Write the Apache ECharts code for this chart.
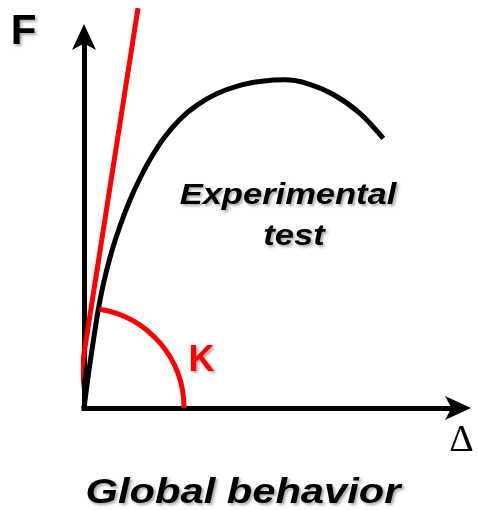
<!DOCTYPE html>
<html>
<head>
<meta charset="utf-8">
<script src="https://cdn.jsdelivr.net/npm/echarts@6/dist/echarts.min.js"></script>
<style>
  html, body { margin: 0; padding: 0; background: #fff; }
  #chart { width: 479px; height: 510px; }
</style>
</head>
<body>
<div id="chart"></div>
<script>
// Experimental load–displacement curve (displacement Δ, force F), arbitrary units
const curveDisp  = [0, 0.80, 1.60, 3.38, 4.26, 5.32, 7.37, 9.57, 12.23, 14.89, 17.55, 21.09, 25.53, 29.97, 35.29, 41.49, 47.34, 53.46, 59.23, 66.30, 73.40, 79.60];
const curveForce = [0, 6.22, 12.06, 23.91, 28.87, 34.02, 41.96, 48.79, 55.76, 61.60, 66.62, 72.20, 77.43, 81.13, 84.26, 86.51, 87.61, 87.99, 87.05, 84.05, 79.01, 72.31];

// Initial stiffness K: tangent line end points
const tangentDisp  = [-1.94, 14.36];
const tangentForce = [2.14, 107.2];

// Radius of the angle marker for K, in displacement units
const stiffnessArcRadius = 26.6;

// Texts
const axisNames = { x: 'Δ', y: 'F' };
const curveLabel = ['Experimental', 'test'];
const stiffnessLabel = 'K';
const captionText = 'Global behavior';

const chart = echarts.init(document.getElementById('chart'), null, { renderer: 'canvas' });

const shadow = {
  textShadowColor: 'rgba(0,0,0,0.35)',
  textShadowBlur: 3,
  textShadowOffsetX: 2,
  textShadowOffsetY: 2
};
const sansBold = '"Liberation Sans", Arial, sans-serif';

const axisCommon = {
  type: 'value',
  min: 0,
  max: 100,
  splitLine: { show: false },
  axisTick: { show: false },
  axisLabel: { show: false },
  axisLine: {
    show: true,
    onZero: false,
    symbol: ['none', 'arrow'],
    symbolSize: [18, 26],
    symbolOffset: [0, 11],
    lineStyle: { color: '#000', width: 5, cap: 'square' }
  }
};

chart.setOption({
  animation: false,
  backgroundColor: '#fff',
  grid: { left: 84, right: 19, top: 35, bottom: 102 },
  xAxis: Object.assign({}, axisCommon),
  yAxis: Object.assign({}, axisCommon),
  graphic: [
    { type: 'text', x: 23.5, y: 32, style: Object.assign({
        text: axisNames.y, fontFamily: sansBold, fontWeight: 'bold', fontSize: 42,
        fill: '#000', align: 'center', verticalAlign: 'middle' }, shadow) },
    { type: 'text', x: 461.5, y: 441, style: {
        text: axisNames.x, fontFamily: '"Liberation Serif", "Times New Roman", serif', fontSize: 38,
        fill: '#000', align: 'center', verticalAlign: 'middle' } },
    { type: 'text', x: 288, y: 196, scaleX: 1.15, style: Object.assign({
        text: curveLabel[0], fontFamily: sansBold, fontWeight: 'bold', fontStyle: 'italic', fontSize: 30,
        fill: '#000', align: 'center', verticalAlign: 'middle' }, shadow) },
    { type: 'text', x: 294, y: 237, scaleX: 1.15, style: Object.assign({
        text: curveLabel[1], fontFamily: sansBold, fontWeight: 'bold', fontStyle: 'italic', fontSize: 30,
        fill: '#000', align: 'center', verticalAlign: 'middle' }, shadow) },
    { type: 'text', x: 201.5, y: 361, style: Object.assign({
        text: stiffnessLabel, fontFamily: sansBold, fontWeight: 'bold', fontSize: 36,
        fill: '#ff0000', align: 'center', verticalAlign: 'middle' }, shadow) },
    { type: 'text', x: 243, y: 493, scaleX: 1.19, style: Object.assign({
        text: captionText, fontFamily: sansBold, fontWeight: 'bold', fontStyle: 'italic', fontSize: 35,
        fill: '#000', align: 'center', verticalAlign: 'middle' }, shadow) }
  ],
  series: [
    {
      name: 'Experimental test',
      type: 'line',
      smooth: 0.3,
      symbol: 'none',
      clip: false,
      z: 10,
      lineStyle: { color: '#000', width: 5, cap: 'butt' },
      data: curveDisp.map((d, i) => [d, curveForce[i]])
    },
    {
      name: 'K',
      type: 'line',
      symbol: 'none',
      clip: false,
      z: 11,
      lineStyle: { color: '#ff0000', width: 5 },
      data: tangentDisp.map((d, i) => [d, tangentForce[i]])
    },
    {
      name: 'K angle',
      type: 'custom',
      clip: false,
      z: 12,
      data: [[0, 0, stiffnessArcRadius]],
      renderItem: function (params, api) {
        const c = api.coord([api.value(0), api.value(1)]);
        const r = api.size([api.value(2), 0])[0];
        const p0 = api.coord([tangentDisp[0], tangentForce[0]]);
        const p1 = api.coord([tangentDisp[1], tangentForce[1]]);
        const ang = Math.atan2(p1[1] - p0[1], p1[0] - p0[0]);
        return {
          type: 'arc',
          shape: { cx: c[0], cy: c[1], r: r, startAngle: ang, endAngle: 0, clockwise: true },
          style: { stroke: '#ff0000', lineWidth: 5, fill: null }
        };
      }
    }
  ]
});
</script>
</body>
</html>
